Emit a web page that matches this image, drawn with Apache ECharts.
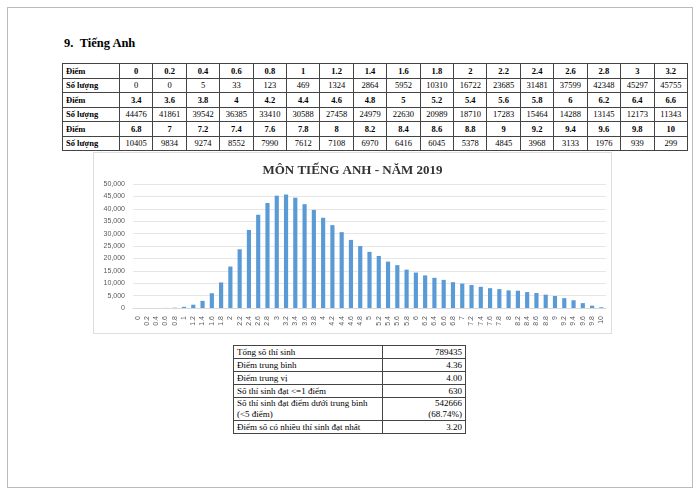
<!DOCTYPE html>
<html><head><meta charset="utf-8">
<script src="https://cdn.jsdelivr.net/npm/echarts@6/dist/echarts.min.js"></script>
<style>
body{margin:0;width:700px;height:495px;background:#fff;font-family:"Liberation Serif",serif;position:relative;overflow:hidden}
.page{position:absolute;left:7px;top:7px;width:684px;height:479px;border:1px solid #bbb}
h3{position:absolute;left:64px;top:36px;margin:0;font-size:12.5px;font-weight:bold}
table{border-collapse:collapse;position:absolute}
#tbl{left:62px;top:63px;width:626px;font-size:8.5px}
#tbl td{border:1px solid #444;height:13.5px;padding:0;text-align:center}
#tbl td:first-child{text-align:left;padding-left:3px;width:53px;font-weight:bold}
#tbl tr.h td{font-weight:bold}
#chart{position:absolute;left:93px;top:152px;width:517px;height:180px;border:1px solid #ddd}
#stats{left:233px;top:345px;width:233px;font-size:9px}
#stats td{border:1px solid #444;padding:0 3px;height:12px;line-height:11px}
#stats td:last-child{text-align:right;width:76px}
</style></head><body>
<div class="page"></div>
<h3>9.&nbsp;&nbsp;Tiếng Anh</h3>
<table id="tbl"></table>
<div id="chart"></div>
<table id="stats"></table>
<script>
var scores = ['0','0.2','0.4','0.6','0.8','1','1.2','1.4','1.6','1.8','2','2.2','2.4','2.6','2.8','3','3.2',
  '3.4','3.6','3.8','4','4.2','4.4','4.6','4.8','5','5.2','5.4','5.6','5.8','6','6.2','6.4','6.6',
  '6.8','7','7.2','7.4','7.6','7.8','8','8.2','8.4','8.6','8.8','9','9.2','9.4','9.6','9.8','10'];
var counts = [0,0,5,33,123,469,1324,2864,5952,10310,16722,23685,31481,37599,42348,45297,45755,
  44476,41861,39542,36385,33410,30588,27458,24979,22630,20989,18710,17283,15464,14288,13145,12173,11343,
  10405,9834,9274,8552,7990,7612,7108,6970,6416,6045,5378,4845,3968,3133,1976,939,299];
var statLabels = ['Tổng số thí sinh','Điểm trung bình','Điểm trung vị','Số thí sinh đạt <=1 điểm',
  'Số thí sinh đạt điểm dưới trung bình<br>(<5 điểm)','Điểm số có nhiều thí sinh đạt nhất'];
var statValues = ['789435','4.36','4.00','630','542666<br>(68.74%)','3.20'];

var html = '';
for (var r = 0; r < 3; r++) {
  var a = scores.slice(r * 17, r * 17 + 17), b = counts.slice(r * 17, r * 17 + 17);
  html += '<tr class="h"><td>Điểm</td><td>' + a.join('</td><td>') + '</td></tr>';
  html += '<tr><td>Số lượng</td><td>' + b.join('</td><td>') + '</td></tr>';
}
document.getElementById('tbl').innerHTML = html;
html = '';
statLabels.forEach(function(l, i) { html += '<tr><td>' + l + '</td><td>' + statValues[i] + '</td></tr>'; });
document.getElementById('stats').innerHTML = html;

var chart = echarts.init(document.getElementById('chart'));
chart.setOption({
  animation: false,
  title: {text: 'MÔN TIẾNG ANH - NĂM 2019', left: 'center', top: 6,
    textStyle: {fontFamily: 'Liberation Serif', fontSize: 13, fontWeight: 'bold', color: '#333'}},
  grid: {left: 39, right: 5, top: 31, bottom: 25},
  xAxis: {type: 'category', data: scores,
    axisLine: {lineStyle: {color: '#d9d9d9'}}, axisTick: {show: false},
    axisLabel: {rotate: 90, interval: 0, fontSize: 7, color: '#595959'}},
  yAxis: {type: 'value', min: 0, max: 50000, interval: 5000,
    axisLine: {show: false}, axisTick: {show: false},
    splitLine: {lineStyle: {color: '#e6e6e6'}},
    axisLabel: {fontSize: 7, color: '#595959'}},
  series: [{type: 'bar', data: counts, barWidth: '45%', itemStyle: {color: '#5b9bd5'}}]
});
</script>
</body></html>
